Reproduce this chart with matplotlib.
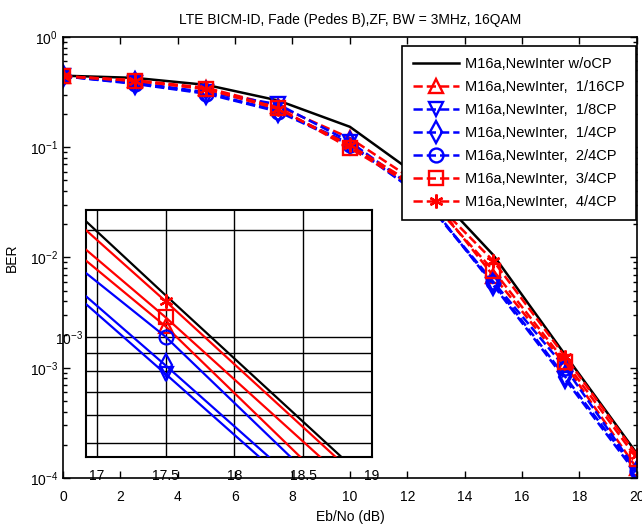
import numpy as np
import matplotlib
matplotlib.use('Agg')
import matplotlib.pyplot as plt
from matplotlib.ticker import LogLocator, NullFormatter, FixedLocator

plt.rcParams['font.family'] = ['Liberation Sans', 'DejaVu Sans']
plt.rcParams['mathtext.default'] = 'regular'
plt.rcParams['axes.unicode_minus'] = False
plt.rcParams['font.size'] = 10

# Eb/No points and BER curves
ebno = [0, 2.5, 5, 7.5, 10, 12.5, 15, 17.5, 20]
ber_nocp = [0.445, 0.425, 0.367, 0.265, 0.153, 0.052, 1.05e-2, 1.31e-3, 1.67e-4]
ber_1_16 = [0.44, 0.405, 0.345, 0.235, 0.121, 0.045, 6.8e-3, 1.07e-3, 1.22e-4]
ber_1_8 = [0.44, 0.385, 0.315, 0.245, 0.112, 0.038, 5.6e-3, 7.85e-4, 1.08e-4]
ber_1_4 = [0.44, 0.38, 0.31, 0.215, 0.108, 0.036, 5.8e-3, 8.3e-4, 1.14e-4]
ber_2_4 = [0.44, 0.375, 0.305, 0.21, 0.105, 0.036, 6.0e-3, 1.0e-3, 1.16e-4]
ber_3_4 = [0.44, 0.40, 0.34, 0.228, 0.098, 0.040, 7.6e-3, 1.135e-3, 1.5e-4]
ber_4_4 = [0.44, 0.40, 0.336, 0.222, 0.104, 0.042, 9.3e-3, 1.26e-3, 1.62e-4]

labels = ['M16a,NewInter w/oCP', 'M16a,NewInter,  1/16CP', 'M16a,NewInter,  1/8CP',
          'M16a,NewInter,  1/4CP', 'M16a,NewInter,  2/4CP', 'M16a,NewInter,  3/4CP',
          'M16a,NewInter,  4/4CP']
curves = [ber_nocp, ber_1_16, ber_1_8, ber_1_4, ber_2_4, ber_3_4, ber_4_4]
colors = ['k', 'r', 'b', 'b', 'b', 'r', 'r']
markers = [None, '^', 'v', 'd', 'o', 's', (6, 2, 0)]
styles = ['-', '--', '--', '--', '--', '--', '--']

fig = plt.figure(figsize=(6.42, 5.27), dpi=100)
ax = fig.add_axes([0.098, 0.093, 0.894, 0.837])

for y, c, m, ls, lab in zip(curves, colors, markers, styles, labels):
    ms = 11 if m == 'd' else 10
    ax.semilogy(ebno, y, color=c, ls=ls, lw=1.8, marker=m, ms=ms,
                mfc='none', mew=1.7, label=lab)

ax.set_xlim(0, 20)
ax.set_ylim(1e-4, 1)
ax.set_xticks(np.arange(0, 21, 2))
ax.yaxis.set_major_locator(LogLocator(base=10, numticks=10))
ax.yaxis.set_minor_locator(LogLocator(base=10, subs=np.arange(2, 10), numticks=10))
ax.yaxis.set_minor_formatter(NullFormatter())
ax.tick_params(which='both', direction='in', top=True, right=True, width=1)
ax.tick_params(which='major', length=5)
ax.tick_params(which='minor', length=3)
ax.tick_params(axis='x', pad=9)
for s in ax.spines.values():
    s.set_linewidth(1.2)

ax.set_title('LTE BICM-ID, Fade (Pedes B),ZF, BW = 3MHz, 16QAM', fontsize=10, pad=9)
ax.set_xlabel('Eb/No (dB)', labelpad=4)
ax.set_ylabel('BER', labelpad=8)

leg = ax.legend(loc='upper right', bbox_to_anchor=(0.998, 0.98), borderaxespad=0,
                fancybox=False, edgecolor='k', framealpha=1, handlelength=3.2,
                labelspacing=0.62, handletextpad=0.4, borderpad=0.75, fontsize=10.5)
leg.get_frame().set_linewidth(1.2)

# zoomed view around 17.5 dB
axin = fig.add_axes([0.1335, 0.1334, 0.446, 0.468])
for y, c, m in zip(curves, colors, markers):
    ms = 11 if m == 'd' else 10
    axin.semilogy(ebno, y, color=c, ls='-', lw=1.6, marker=m, ms=ms,
                  mfc='none', mew=1.6, zorder=3)
axin.set_xlim(16.92, 19.0)
axin.set_ylim(4.58e-4, 2.28e-3)
axin.set_xticks([17, 17.5, 18, 18.5, 19])
axin.set_xticklabels(['17', '17.5', '18', '18.5', '19'])
axin.yaxis.set_major_locator(FixedLocator([1e-3]))
axin.yaxis.set_minor_locator(LogLocator(base=10, subs=np.arange(2, 10), numticks=10))
axin.yaxis.set_minor_formatter(NullFormatter())
axin.grid(True, which='major', color='k', lw=1.0, ls='-')
axin.grid(True, which='minor', axis='y', color='k', lw=1.0, ls='-')
axin.tick_params(which='both', length=0)
axin.tick_params(axis='x', pad=9)
axin.tick_params(axis='y', pad=2)
for s in axin.spines.values():
    s.set_linewidth(1.5)

fig.savefig('out.png', dpi=100)
